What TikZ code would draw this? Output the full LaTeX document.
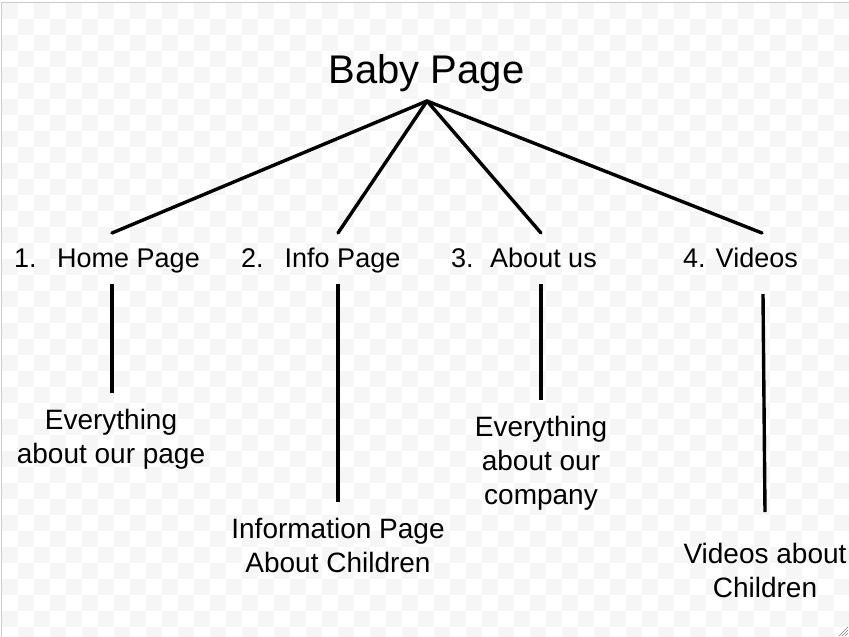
\documentclass[tikz,border=0pt]{standalone}
\usepackage{fontspec}
\setmainfont{Liberation Sans}
\usepackage{xcolor}
\definecolor{checker}{RGB}{246,246,246}
\definecolor{frame}{RGB}{204,204,204}

\begin{document}
\begin{tikzpicture}[x=1pt,y=-1pt,
        branch/.style={line width=3.4pt, line cap=round},
        head/.style={inner sep=0pt, font=\fontsize{40}{48}\selectfont},
        item/.style={inner sep=0pt, anchor=base west, font=\fontsize{27}{34}\selectfont},
        note/.style={inner sep=0pt, anchor=base, align=center, font=\fontsize{28}{34}\selectfont}]
    \useasboundingbox (0,0) rectangle (849,637);
    % background
    \foreach \i in {0,...,53} {
        \foreach \j in {0,...,39} {
            \pgfmathparse{int(mod(\i+\j,2))}
            \ifnum\pgfmathresult=0
                \fill[checker] (2+16*\i,3+16*\j) rectangle +(16,16);
            \fi
        }
    }
    \draw[frame, line width=1.2pt] (1.2,637) -- (1.2,2.2) -- (849,2.2);
    \foreach \k in {4,7,10} {
        \draw[gray, line width=0.6pt] (849-\k,636) -- (848,636-\k+1);
    }

    % titles
    \node[head, anchor=base] (baby) at (426.5,83) {Baby Page};
    \node[item] (home) at (14,267)  {1.\hspace{20.5pt}Home Page};
    \node[item] (info) at (241,267) {2.\hspace{21pt}Info Page};
    \node[item] (about) at (451,267) {3.\hspace{16.5pt}About us};
    \node[item] (videos) at (683,267) {4. Videos};

    % notes (anchor base = last line)
    \node[note] (homenote) at (111,463) {Everything\\about our page};
    \node[note] (infonote) at (338,572) {Information Page\\About Children};
    \node[note] (aboutnote) at (541,504) {Everything\\about our\\company};
    \node[note] (videosnote) at (765,597) {Videos about\\Children};

    % connectors
    \coordinate (apex) at (427,101);
    \coordinate (home-t) at (112,233);
    \coordinate (info-t) at (338,233);
    \coordinate (about-t) at (541,233);
    \coordinate (videos-t) at (762,233);
    \foreach \n in {home,info,about,videos} {
        \draw[branch] (apex) -- (\n-t);
    }
    \coordinate (home-a) at (112,284);   \coordinate (home-b) at (112,393);
    \coordinate (info-a) at (338,284);   \coordinate (info-b) at (338,502);
    \coordinate (about-a) at (541,284);  \coordinate (about-b) at (541,400);
    \coordinate (videos-a) at (763,294); \coordinate (videos-b) at (765,512);
    \foreach \n in {home,info,about,videos} {
        \draw[branch, line cap=butt] (\n-a) -- (\n-b);
    }
\end{tikzpicture}
\end{document}
